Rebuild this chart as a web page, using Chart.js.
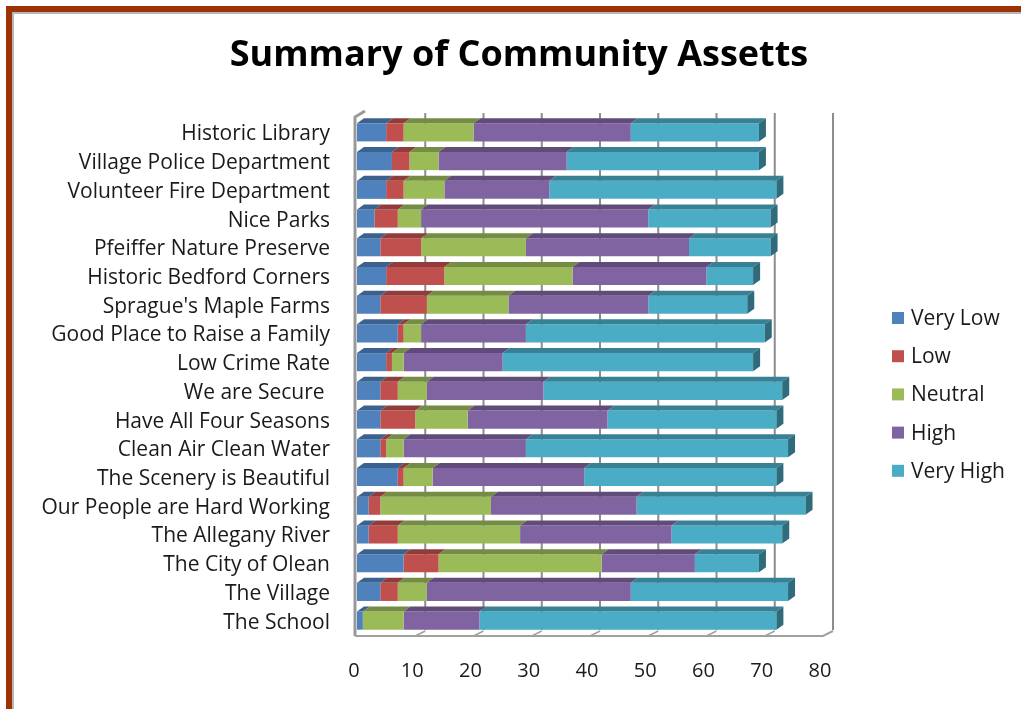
<!DOCTYPE html>
<html>
<head>
<meta charset="utf-8">
<script src="https://cdn.jsdelivr.net/npm/chart.js@4.4.0/dist/chart.umd.min.js"></script>
<style>
  html, body { margin: 0; padding: 0; background: #fff; }
  #frame {
    position: absolute; left: 6px; top: 6px; right: 0; bottom: 0;
    border-top: 6px solid #9c3206; border-left: 6px solid #9c3206;
  }
  #inner {
    position: absolute; left: 0; top: 0; right: 0; bottom: 0;
    border-top: 2px solid #b4b8b8; border-left: 2px solid #b4b8b8;
  }
  #wrap { position: absolute; left: 0; top: 0; width: 1021px; height: 709px; }
  #title {
    position: absolute; left: 0; top: 28px; width: 1038px; z-index: 2;
    text-align: center; line-height: 40px;
    font: bold 36px "Open Sans", sans-serif; color: #000;
  }
</style>
</head>
<body>
<div id="frame"><div id="inner"></div></div>
<div id="wrap"><canvas id="myChart" width="1021" height="709"></canvas></div>
<div id="title">Summary of Community Assetts</div>
<script>
const categories = [
  'Historic Library', 'Village Police Department', 'Volunteer Fire Department',
  'Nice Parks', 'Pfeiffer Nature Preserve', 'Historic Bedford Corners',
  "Sprague's Maple Farms", 'Good Place to Raise a Family', 'Low Crime Rate',
  'We are Secure ', 'Have All Four Seasons', 'Clean Air Clean Water',
  'The Scenery is Beautiful', 'Our People are Hard Working', 'The Allegany River',
  'The City of Olean', 'The Village', 'The School'
]
const seriesNames = ['Very Low', 'Low', 'Neutral', 'High', 'Very High']
const veryLow = [5, 6, 5, 3, 4, 5, 4, 7, 5, 4, 4, 4, 7, 2, 2, 8, 4, 1]
const low = [3, 3, 3, 4, 7, 10, 8, 1, 1, 3, 6, 1, 1, 2, 5, 6, 3, 0]
const neutral = [12, 5, 7, 4, 18, 22, 14, 3, 2, 5, 9, 3, 5, 19, 21, 28, 5, 7]
const high = [27, 22, 18, 39, 28, 23, 24, 18, 17, 20, 24, 21, 26, 25, 26, 16, 35, 13]
const veryHigh = [22, 33, 39, 21, 14, 8, 17, 41, 43, 41, 29, 45, 33, 29, 19, 11, 27, 51]
const xTicks = [0, 10, 20, 30, 40, 50, 60, 70, 80]

const colors = ['#4f81bd', '#c0504d', '#9bbb59', '#8064a2', '#4bacc6']
const textColor = '#1a1a1a'
const font = '"Open Sans", "Liberation Sans", sans-serif'

// darken a hex colour
function shade(hex, f) {
  const n = parseInt(hex.slice(1), 16)
  const r = Math.round(((n >> 16) & 255) * f)
  const g = Math.round(((n >> 8) & 255) * f)
  const b = Math.round((n & 255) * f)
  return 'rgb(' + r + ',' + g + ',' + b + ')'
}

const bx = 7, by = 5   // bar depth
const wx = 10, wy = 5  // wall depth

// back wall, left wall and floor
const walls = {
  id: 'walls',
  beforeDatasetsDraw(chart) {
    const { ctx, chartArea: a, scales: { x } } = chart
    ctx.save()
    ctx.strokeStyle = '#8c8c8c'
    ctx.lineWidth = 2
    xTicks.forEach(v => {
      if (v === 0) return
      const px = x.getPixelForValue(v) + wx
      ctx.beginPath()
      ctx.moveTo(px, a.top - wy)
      ctx.lineTo(px, a.bottom - wy)
      ctx.stroke()
    })
    // floor
    ctx.strokeStyle = '#a0a0a0'
    ctx.beginPath()
    ctx.moveTo(a.left - 2, a.bottom + 1)
    ctx.lineTo(a.right, a.bottom + 1)
    ctx.lineTo(a.right + wx, a.bottom + 1 - wy)
    ctx.stroke()
    ctx.lineWidth = 1.5
    xTicks.forEach(v => {
      if (v === 0 || v === 80) return
      const px = x.getPixelForValue(v)
      ctx.beginPath()
      ctx.moveTo(px, a.bottom + 1)
      ctx.lineTo(px + wx, a.bottom + 1 - wy)
      ctx.stroke()
    })
    // left wall
    ctx.strokeStyle = '#999'
    ctx.lineWidth = 3
    ctx.beginPath()
    ctx.moveTo(a.left - 2 + wx, a.top - wy - 2)
    ctx.lineTo(a.left - 2, a.top - 1)
    ctx.lineTo(a.left - 2, a.bottom + 1)
    ctx.stroke()
    ctx.restore()
  }
}

// top and end faces of the bars
const bars3d = {
  id: 'bars3d',
  afterDatasetsDraw(chart) {
    const ctx = chart.ctx
    const n = chart.data.labels.length
    ctx.save()
    for (let i = 0; i < n; i++) {
      let last = null
      chart.data.datasets.forEach((ds, d) => {
        const el = chart.getDatasetMeta(d).data[i]
        if (!el || ds.data[i] === 0) return
        const t = el.y - el.height / 2
        ctx.fillStyle = shade(colors[d], 0.75)
        ctx.beginPath()
        ctx.moveTo(el.base, t)
        ctx.lineTo(el.x, t)
        ctx.lineTo(el.x + bx, t - by)
        ctx.lineTo(el.base + bx, t - by)
        ctx.closePath()
        ctx.fill()
        last = { el, d }
      })
      if (last) {
        const el = last.el
        const t = el.y - el.height / 2
        const b = el.y + el.height / 2
        ctx.fillStyle = shade(colors[last.d], 0.62)
        ctx.beginPath()
        ctx.moveTo(el.x, t)
        ctx.lineTo(el.x + bx, t - by)
        ctx.lineTo(el.x + bx, b - by)
        ctx.lineTo(el.x, b)
        ctx.closePath()
        ctx.fill()
      }
    }
    ctx.restore()
  }
}

// legend on the right
const sideLegend = {
  id: 'sideLegend',
  afterDraw(chart) {
    const ctx = chart.ctx
    ctx.save()
    ctx.font = '21px ' + font
    ctx.textBaseline = 'middle'
    chart.data.datasets.forEach((ds, d) => {
      const y = 318 + d * 38.2
      ctx.fillStyle = ds.backgroundColor
      ctx.fillRect(892, y - 6, 12, 12)
      ctx.fillStyle = textColor
      ctx.fillText(ds.label, 911, y + 1)
    })
    ctx.restore()
  }
}

const seriesData = [veryLow, low, neutral, high, veryHigh]

const myChart = new Chart(document.getElementById('myChart'), {
  type: 'bar',
  data: {
    labels: categories,
    datasets: seriesData.map((arr, i) => ({
      label: seriesNames[i],
      data: arr,
      backgroundColor: colors[i],
      borderWidth: 0,
      barPercentage: 0.63,
      categoryPercentage: 1
    }))
  },
  options: {
    indexAxis: 'y',
    responsive: false,
    animation: false,
    layout: { padding: { top: 118, left: 17, right: 198, bottom: 2 } },
    plugins: {
      legend: { display: false },
      tooltip: { enabled: false },
      title: { display: false }
    },
    scales: {
      x: {
        stacked: true,
        min: 0,
        max: 80,
        ticks: { stepSize: 10, padding: 24, labelOffset: -3, color: textColor, font: { family: font, size: 20 } },
        grid: { display: false, drawTicks: false },
        border: { display: false }
      },
      y: {
        stacked: true,
        afterFit: (scale) => { scale.width = 340 },
        ticks: { padding: 27, labelOffset: 2, color: textColor, font: { family: font, size: 21 } },
        grid: { display: false, drawTicks: false },
        border: { display: false }
      }
    }
  },
  plugins: [walls, bars3d, sideLegend]
})
</script>
</body>
</html>
